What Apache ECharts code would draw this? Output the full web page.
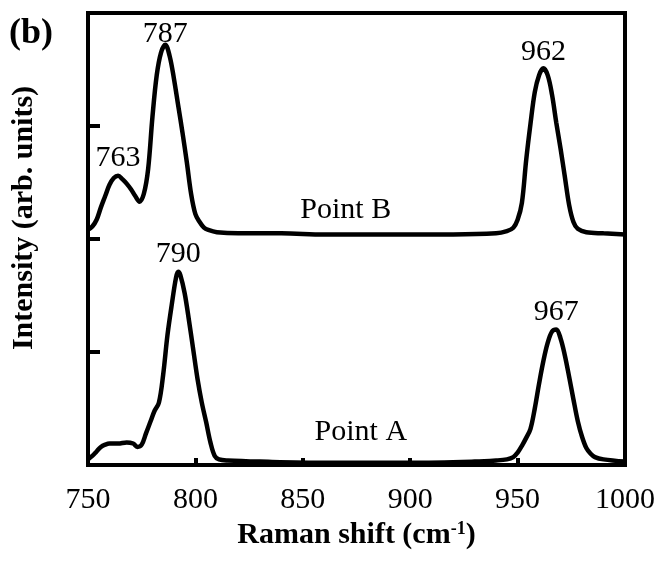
<!DOCTYPE html>
<html>
<head>
<meta charset="utf-8">
<script src="https://cdn.jsdelivr.net/npm/echarts@6/dist/echarts.min.js"></script>
<style>html,body{margin:0;padding:0;background:#fff}#c{width:663px;height:565px}</style>
</head>
<body>
<div id="c"></div>
<script>
// Raman shift (cm-1) and intensity (arb. units, stacked offset) for Point B
const ramanB = [750,752,754,756,758,760,762,764,766,768,770,772,774,776,778,780,782,784,786,788,790,792,794,796,798,800,802,804,806,810,820,840,860,880,900,920,940,945,948,950,952,954,956,958,960,962,964,966,968,970,972,974,976,978,982,990,1000];
const intensityB = [2.08,2.11,2.17,2.28,2.38,2.48,2.54,2.56,2.53,2.49,2.44,2.38,2.33,2.40,2.62,3.08,3.45,3.65,3.72,3.62,3.42,3.18,2.94,2.68,2.40,2.22,2.15,2.10,2.08,2.06,2.05,2.05,2.04,2.04,2.04,2.04,2.05,2.07,2.10,2.17,2.32,2.70,3.02,3.30,3.45,3.51,3.45,3.28,3.03,2.80,2.55,2.30,2.15,2.09,2.06,2.05,2.04];
// Point A
const ramanA = [750,752,754,756,758,760,764,768,771,773,775,777,779,781,783,785,787,789,791,792,793,795,797,799,801,803,805,807,809,811,815,830,860,900,930,940,945,948,950,952,954,956,958,960,962,964,966,968,970,972,974,976,978,980,982,984,986,990,1000];
const intensityA = [0.05,0.08,0.12,0.16,0.18,0.19,0.19,0.20,0.19,0.16,0.18,0.28,0.38,0.48,0.55,0.80,1.15,1.42,1.66,1.71,1.68,1.52,1.28,1.02,0.76,0.55,0.38,0.20,0.08,0.05,0.04,0.03,0.02,0.02,0.03,0.04,0.05,0.07,0.11,0.17,0.24,0.32,0.50,0.72,0.92,1.08,1.18,1.20,1.12,0.97,0.78,0.58,0.39,0.25,0.15,0.10,0.07,0.05,0.03];
// Peak annotations: [text, raman position of the peak point]
const peakNotesB = [['763', 764], ['787', 786], ['962', 962]];
const peakNotesA = [['790', 792], ['967', 968]];
// Curve name annotations: [text, raman, intensity]
const curveNotesB = [['Point B', 870, 2.257]];
const curveNotesA = [['Point A', 877, 0.295]];
// Axis ticks
const xTicks = [750, 800, 850, 900, 950, 1000];
const yTicks = [0, 1, 2, 3, 4];

const FONT = "'Liberation Serif','Times New Roman',serif";
const labelGap = {'763': 3, '787': -4, '962': 1, '790': 3, '967': 2};

function valueAt(xs, ys, x) { return ys[xs.indexOf(x)]; }
function pairs(xs, ys) { return xs.map((x, i) => [x, ys[i]]); }

const txt = { color: '#000', fontFamily: FONT, fontSize: 30, lineHeight: 30, fontWeight: 'normal', textBorderWidth: 0 };

function marks(xs, ys, peaks, names) {
  const pk = peaks.map(p => ({
    coord: [p[1], valueAt(xs, ys, p[1])], value: p[0],
    label: Object.assign({ show: true, position: 'top', distance: labelGap[p[0]], formatter: p[0] }, txt)
  }));
  const nm = names.map(n => ({
    coord: [n[1], n[2]], value: n[0],
    label: Object.assign({ show: true, position: 'inside', formatter: n[0] }, txt)
  }));
  return { symbol: 'circle', symbolSize: 0, silent: true, itemStyle: { color: '#000', opacity: 1 }, data: pk.concat(nm) };
}

const chart = echarts.init(document.getElementById('c'), null, { renderer: 'canvas' });
chart.setOption({
  animation: false,
  backgroundColor: '#fff',
  grid: { left: 88, right: 38, top: 13, bottom: 100, show: true, borderColor: '#000', borderWidth: 4, backgroundColor: 'transparent' },
  xAxis: {
    type: 'value', min: xTicks[0], max: xTicks[xTicks.length - 1], interval: 50,
    axisLine: { lineStyle: { color: '#000', width: 4 } },
    axisTick: { inside: true, length: 7, lineStyle: { color: '#000', width: 4 } },
    splitLine: { show: false },
    axisLabel: { color: '#000', fontFamily: FONT, fontSize: 30, margin: 20, formatter: v => String(v) },
    name: '{b|Raman shift (cm}{s|-1}{b|)}',
    nameLocation: 'middle', nameGap: 52,
    nameTextStyle: {
      rich: {
        b: { fontFamily: FONT, fontWeight: 'bold', fontSize: 30, color: '#000', lineHeight: 30 },
        s: { fontFamily: FONT, fontWeight: 'bold', fontSize: 18, color: '#000', lineHeight: 30, verticalAlign: 'top', padding: [0, 0, 12, 0] }
      }
    }
  },
  yAxis: {
    type: 'value', min: yTicks[0], max: yTicks[yTicks.length - 1], interval: 1,
    axisLine: { lineStyle: { color: '#000', width: 4 } },
    axisTick: { inside: true, length: 12, lineStyle: { color: '#000', width: 4 } },
    splitLine: { show: false },
    axisLabel: { show: false }
  },
  graphic: [
    { type: 'text', x: 24, y: 218, rotation: Math.PI / 2,
      style: { text: 'Intensity (arb. units)', font: "bold 30px 'Liberation Serif','Times New Roman',serif", fill: '#000', textAlign: 'center', textVerticalAlign: 'middle' } },
    { type: 'text', x: 31, y: 34,
      style: { text: '(b)', font: "bold 36px 'Liberation Serif','Times New Roman',serif", fill: '#000', textAlign: 'center', textVerticalAlign: 'middle' } }
  ],
  series: [
    { type: 'line', name: 'Point B', data: pairs(ramanB, intensityB), smooth: 0.35, showSymbol: false,
      lineStyle: { color: '#000', width: 4.5 }, itemStyle: { color: '#000' },
      markPoint: marks(ramanB, intensityB, peakNotesB, curveNotesB) },
    { type: 'line', name: 'Point A', data: pairs(ramanA, intensityA), smooth: 0.35, showSymbol: false,
      lineStyle: { color: '#000', width: 4.5 }, itemStyle: { color: '#000' },
      markPoint: marks(ramanA, intensityA, peakNotesA, curveNotesA) }
  ]
});
</script>
</body>
</html>
